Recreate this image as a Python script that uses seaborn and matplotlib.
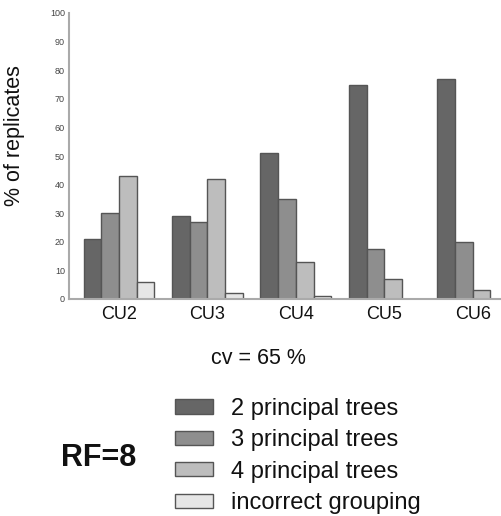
import pandas as pd
import seaborn as sns
from matplotlib import pyplot as plt
from matplotlib.patches import Patch

groups = ["CU2", "CU3", "CU4", "CU5", "CU6"]
series = ["2 principal trees", "3 principal trees", "4 principal trees", "incorrect grouping"]
two_trees = [21, 29, 51, 75, 77]
three_trees = [30, 27, 35, 17.5, 20]
four_trees = [43, 42, 13, 7, 3]
incorrect = [6, 2, 1, 0, 0]
colors = ["#666666", "#8e8e8e", "#bdbdbd", "#e6e6e6"]


def main():
    df = pd.DataFrame({"group": groups * 4,
                       "series": [s for s in series for _ in groups],
                       "value": two_trees + three_trees + four_trees + incorrect})

    sns.set_style("white")
    plt.rcParams["font.family"] = ["Liberation Sans", "DejaVu Sans"]
    plt.rcParams["text.color"] = "#111111"
    fig = plt.figure(figsize=(5.01, 5.16), dpi=100)
    ax = fig.add_axes([69 / 501, 1 - 299 / 516, 1 - 69 / 501, (299 - 13) / 516])

    palette = dict(zip(series, colors))
    sns.barplot(df, x="group", y="value", hue="series", hue_order=series, order=groups,
                palette=palette, width=0.8, edgecolor="#555555", linewidth=1.0,
                saturation=1, legend=False, ax=ax)

    ax.set_xlim(-0.565, 4.32)
    ax.set_ylim(0, 100)
    ax.set_yticks(range(0, 101, 10))
    ax.tick_params(axis="y", labelsize=6.5, direction="in", length=3, colors="#888888",
                   labelcolor="#444444", pad=3)
    ax.tick_params(axis="x", labelsize=13, length=0, pad=5, labelcolor="#111111")
    ax.set_xlabel("")
    ax.set_ylabel("% of replicates", fontsize=15.5, color="#111111")
    ax.yaxis.set_label_coords(-0.102, 0.57)
    for s in ["top", "right"]:
        ax.spines[s].set_visible(False)
    for s in ["left", "bottom"]:
        ax.spines[s].set_color("#aaaaaa")
        ax.spines[s].set_linewidth(1.5)

    fig.text(258 / 501, 1 - 358 / 516, "cv = 65 %", ha="center", va="center", fontsize=15.5)
    fig.text(99 / 501, 1 - 458 / 516, "RF=8", ha="center", va="center", fontsize=22,
             fontweight="bold")

    handles = [Patch(facecolor=c, edgecolor="#555555", linewidth=1) for c in colors]
    fig.legend(handles, series, loc="center left", bbox_to_anchor=(154 / 501, 1 - 456 / 516),
               frameon=False, fontsize=17, handlelength=1.6, handleheight=0.55,
               labelspacing=0.4, handletextpad=0.75)

    fig.savefig("out.png", dpi=100)


if __name__ == "__main__":
    main()
